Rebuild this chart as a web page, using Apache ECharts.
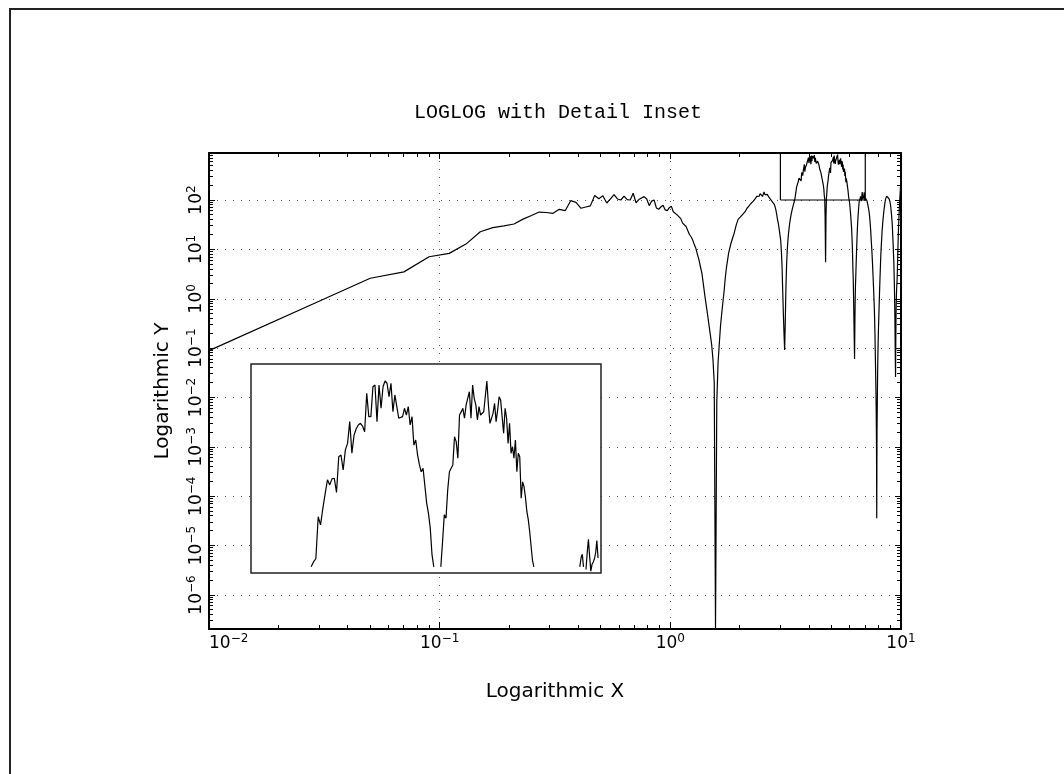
<!DOCTYPE html>
<html>
<head>
<meta charset="utf-8">
<script src="https://cdn.jsdelivr.net/npm/echarts@6.0.0/dist/echarts.min.js"></script>
<style>
  html, body { margin: 0; padding: 0; background: #fff; }
  #chart { width: 1064px; height: 774px; }
</style>
</head>
<body>
<div id="chart"></div>
<script>
// Signal sampled every 0.02 in x; each band lists y values from its first x.
const SAMPLE_STEP = 0.02;

// x = 0.01 ... 0.99
const lowBand = [
  0.089, 0.89, 2.6, 3.5, 7.1, 8.3, 12.8, 22.8, 27.5, 30,
  32.7, 41, 48.5, 57, 55.8, 53.7, 64.7, 60.7, 96.8, 89.8,
  68, 72, 76, 123, 106, 122, 87, 105, 128, 105,
  100, 120, 102, 100, 137, 88, 102, 110, 117, 105,
  77, 95, 100, 69, 65, 72, 78, 63, 61, 70
];

// x = 1.01 ... 3.45
const firstLobes = [
  75, 58, 62, 50, 52, 42, 34, 36, 29, 24,
  20, 18, 15.5, 12.5, 10.5, 8, 6.2, 4.5, 3.3, 2.0,
  1.2, 0.75, 0.48, 0.3, 0.19, 0.12, 0.06, 0.02, 2.1e-7, 0.008,
  0.05, 0.12, 0.28, 0.5, 0.85, 1.4, 2.6, 4.2, 6, 8.5,
  10.5, 13, 15.5, 17, 21, 23, 31, 36, 41, 43,
  45, 47, 50, 52, 54, 58, 62, 68, 72, 75,
  80, 84, 88, 92, 95, 100, 105, 108, 118, 112,
  128, 120, 135, 125, 140, 118, 132, 145, 128, 138,
  126, 130, 120, 116, 112, 105, 100, 96, 92, 88,
  84, 80, 74, 62, 52, 42, 36, 30, 24, 19,
  15, 9, 4.5, 1.5, 0.5, 0.2, 0.092, 0.35, 1.6, 4.5,
  9, 14, 20, 26, 33, 40, 47, 55, 62, 70,
  78, 86, 95
];

// x = 3.47 ... 6.99 (the stretch shown enlarged in the inset)
const detailBand = [
  107, 113, 117, 186, 170, 204, 240, 279, 264, 282,
  284, 243, 360, 367, 311, 388, 417, 530, 374, 457,
  490, 511, 520, 505, 474, 724, 560, 560, 778, 793,
  530, 793, 614, 778, 829, 809, 697, 809, 591, 711,
  625, 550, 555, 560, 614, 570, 625, 511, 560, 409,
  433, 367, 330, 305, 317, 323, 216, 193, 164, 122,
  107,
  40, 5.5, 45,
  107, 141, 190, 183, 250, 305, 317, 329, 449, 425,
  354, 570, 590, 614, 550, 637, 649, 737, 550, 793,
  685, 637, 540, 625, 570, 580, 591, 591, 829, 637,
  520, 511, 580, 649, 530, 600, 697, 673, 673, 466,
  614, 550, 417, 520, 374, 402, 354, 433, 305, 374,
  360, 228, 273, 259, 230, 197, 180, 158, 161, 115,
  107,
  95, 85, 72, 60, 50, 40, 32, 26, 18, 12,
  7, 3.8, 2.4, 1.0, 0.4, 0.15, 0.06, 0.3, 1.0, 2.0,
  3.0, 5, 8, 12, 18, 26, 35, 45, 55, 68,
  80, 95,
  98, 99, 107, 118, 123, 107, 95, 104, 125, 145,
  120, 102, 110, 113, 117, 125, 143, 118, 97, 96
];

// x = 7.01 ... 9.99
const highBand = [
  110, 116, 106, 104, 108, 98, 95, 88, 86, 78,
  73, 68, 63, 58, 52, 46, 40, 34, 29, 24,
  19, 15, 12.5, 10, 8, 6.2, 4.8, 3.6, 2.7, 2.0,
  1.5, 1.1, 0.8, 0.55, 0.35, 0.2, 0.1, 0.05, 0.025, 0.012,
  0.005, 0.0012, 3.6e-5, 0.002, 0.006, 0.02, 0.05, 0.1, 0.17, 0.27,
  0.4, 0.6, 0.9, 1.3, 1.9, 2.7, 3.7, 5.2, 7, 9,
  11.5, 14, 17, 21, 25, 29, 34, 39, 43, 48,
  54, 60, 66, 72, 78, 84, 92, 96, 104, 100,
  110, 114, 108, 120, 125, 118, 127, 121, 124, 116,
  120, 112, 114, 106, 108, 100, 102, 95, 90, 84,
  78, 72, 65, 58, 52, 46, 40, 36, 30, 24,
  19, 15, 12, 9, 7, 5.5, 3.6, 2.4, 1.5, 0.8,
  0.4, 0.15, 0.06, 0.026, 0.12, 0.35, 0.7, 1.1, 1.5, 1.9,
  2.2, 2.8, 4, 6, 9, 13, 18, 25, 33, 42,
  52, 62, 78, 95, 115, 135, 160, 185, 215, 250
];

const bands = [[0.01, lowBand], [1.01, firstLobes], [3.47, detailBand], [7.01, highBand]];

// Axis ranges and the enlarged window
const X_RANGE = [0.01, 10];
const Y_RANGE = [2.05e-7, 895];
const DETAIL_X = [3, 7];
const DETAIL_Y = [100, 1000];

// Decades that carry a labelled tick
const X_DECADES = [-2, -1, 0, 1];
const Y_DECADES = [-6, -5, -4, -3, -2, -1, 0, 1, 2];

const curve = [];
bands.forEach(([x0, ys]) => {
  ys.forEach((y, k) => curve.push([+(x0 + k * SAMPLE_STEP).toFixed(2), y]));
});

// Inset: only samples inside its x window; values under its floor leave gaps
const insetCurve = curve
  .filter(([x]) => x >= DETAIL_X[0] && x <= DETAIL_X[1])
  .map(([x, y]) => [x, y >= DETAIL_Y[0] ? y : '-']);

const detailBox = [
  [DETAIL_X[0], DETAIL_Y[0]], [DETAIL_X[0], DETAIL_Y[1]],
  [DETAIL_X[1], DETAIL_Y[1]], [DETAIL_X[1], DETAIL_Y[0]],
  [DETAIL_X[0], DETAIL_Y[0]]
];

function minorTicks(lo, hi) {
  const out = [];
  for (let d = Math.floor(Math.log10(lo)); d <= Math.ceil(Math.log10(hi)); d++) {
    for (let m = 2; m <= 9; m++) {
      const v = m * Math.pow(10, d);
      if (v > lo && v < hi) out.push(v);
    }
  }
  return out;
}

function powerLabel(decades) {
  return function (v) {
    const e = Math.log10(v);
    const r = Math.round(e);
    if (Math.abs(e - r) > 1e-6 || decades.indexOf(r) < 0) return '';
    return '{b|10}{s|' + (r < 0 ? '\u2212' + (-r) : r) + '}';
  };
}

const LABEL_FONT = 'DejaVu Sans';
const labelRich = {
  b: { fontSize: 17, lineHeight: 22, fontFamily: LABEL_FONT, color: '#000' },
  s: { fontSize: 12, lineHeight: 12, verticalAlign: 'top', fontFamily: LABEL_FONT, color: '#000' }
};

const INK = '#000';
const dotted = { type: [1, 7], color: '#555', width: 1 };
const MINOR_LEN = 4;

function crisp(v) { return Math.round(v - 0.5) + 0.5; }

const chart = echarts.init(document.getElementById('chart'), null, { renderer: 'canvas' });

chart.setOption({
  animation: false,
  backgroundColor: '#fff',
  textStyle: { fontFamily: LABEL_FONT },
  title: {
    text: 'LOGLOG with Detail Inset',
    left: 553,
    top: 98,
    textAlign: 'center',
    textStyle: { fontFamily: 'Liberation Mono', fontSize: 20, fontWeight: 'normal', color: INK }
  },
  graphic: [
    { type: 'line', silent: true, shape: { x1: 9, y1: 9, x2: 1064, y2: 9 }, style: { stroke: '#222', lineWidth: 2 } },
    { type: 'line', silent: true, shape: { x1: 10, y1: 8, x2: 10, y2: 774 }, style: { stroke: '#222', lineWidth: 2 } }
  ],
  grid: [
    { left: 209, top: 153, width: 692, height: 476, outerBoundsMode: 'none', containLabel: false },
    { left: 251, top: 364, width: 350, height: 209, show: true, backgroundColor: '#fff',
      borderColor: '#222', borderWidth: 1.5, z: 5, outerBoundsMode: 'none', containLabel: false }
  ],
  xAxis: [
    {
      gridIndex: 0, type: 'log', logBase: 10, min: X_RANGE[0], max: X_RANGE[1], position: 'bottom',
      axisLine: { show: true, onZero: false, lineStyle: { color: INK, width: 2 } },
      axisTick: { show: true, inside: true, length: 7, lineStyle: { color: INK, width: 1 } },
      axisLabel: { formatter: powerLabel(X_DECADES), rich: labelRich, margin: 4, alignMinLabel: 'left' },
      splitLine: { show: true, lineStyle: dotted },
      name: 'Logarithmic X', nameLocation: 'middle', nameGap: 53,
      nameTextStyle: { fontFamily: LABEL_FONT, fontSize: 20, color: INK }
    },
    {
      gridIndex: 0, type: 'log', logBase: 10, min: X_RANGE[0], max: X_RANGE[1], position: 'top',
      axisLine: { show: true, onZero: false, lineStyle: { color: INK, width: 2 } },
      axisTick: { show: true, inside: true, length: 6, lineStyle: { color: INK, width: 1 } },
      axisLabel: { show: false }, splitLine: { show: false }
    },
    { gridIndex: 1, type: 'log', logBase: 10, min: DETAIL_X[0], max: DETAIL_X[1], show: false, splitLine: { show: false } }
  ],
  yAxis: [
    {
      gridIndex: 0, type: 'log', logBase: 10, min: Y_RANGE[0], max: Y_RANGE[1], position: 'left', splitNumber: 10,
      axisLine: { show: true, onZero: false, lineStyle: { color: INK, width: 2 } },
      axisTick: { show: true, inside: true, length: 6, lineStyle: { color: INK, width: 1 } },
      axisLabel: { formatter: powerLabel(Y_DECADES), rich: labelRich, margin: 1, rotate: 90 },
      splitLine: { show: true, lineStyle: dotted },
      name: 'Logarithmic Y', nameLocation: 'middle', nameGap: 36, nameRotate: 90,
      nameTextStyle: { fontFamily: LABEL_FONT, fontSize: 20, color: INK }
    },
    {
      gridIndex: 0, type: 'log', logBase: 10, min: Y_RANGE[0], max: Y_RANGE[1], position: 'right', splitNumber: 10,
      axisLine: { show: true, onZero: false, lineStyle: { color: INK, width: 2 } },
      axisTick: { show: true, inside: true, length: 6, lineStyle: { color: INK, width: 1 } },
      axisLabel: { show: false }, splitLine: { show: false }
    },
    { gridIndex: 1, type: 'log', logBase: 10, min: DETAIL_Y[0], max: DETAIL_Y[1], show: false, splitLine: { show: false } }
  ],
  series: [
    {
      type: 'line', xAxisIndex: 0, yAxisIndex: 0, data: curve, symbol: 'none', silent: true, z: 3,
      lineStyle: { color: INK, width: 1.2 }
    },
    {
      type: 'line', xAxisIndex: 0, yAxisIndex: 0, data: detailBox, symbol: 'none', silent: true, z: 3,
      lineStyle: { color: INK, width: 1.2 }
    },
    {
      type: 'line', xAxisIndex: 2, yAxisIndex: 2, data: insetCurve, symbol: 'none', silent: true, z: 10,
      connectNulls: false, lineStyle: { color: INK, width: 1.2 }
    },
    {
      // minor decade ticks along the bottom and top edges
      type: 'custom', xAxisIndex: 0, yAxisIndex: 0, silent: true, z: 4,
      data: minorTicks(X_RANGE[0], X_RANGE[1]).map(v => [v, Y_RANGE[1]]),
      renderItem(params, api) {
        const cs = params.coordSys;
        const px = crisp(api.coord([api.value(0), Y_RANGE[1]])[0]);
        const bottom = cs.y + cs.height, top = cs.y;
        const st = { stroke: INK, lineWidth: 1 };
        return { type: 'group', children: [
          { type: 'line', shape: { x1: px, y1: bottom, x2: px, y2: bottom - MINOR_LEN }, style: st },
          { type: 'line', shape: { x1: px, y1: top, x2: px, y2: top + MINOR_LEN }, style: st }
        ] };
      }
    },
    {
      // minor decade ticks along the left and right edges
      type: 'custom', xAxisIndex: 0, yAxisIndex: 0, silent: true, z: 4,
      data: minorTicks(Y_RANGE[0], Y_RANGE[1]).map(v => [X_RANGE[0], v]),
      renderItem(params, api) {
        const cs = params.coordSys;
        const py = crisp(api.coord([X_RANGE[0], api.value(1)])[1]);
        const left = cs.x, right = cs.x + cs.width;
        const st = { stroke: INK, lineWidth: 1 };
        return { type: 'group', children: [
          { type: 'line', shape: { x1: left, y1: py, x2: left + MINOR_LEN, y2: py }, style: st },
          { type: 'line', shape: { x1: right, y1: py, x2: right - MINOR_LEN, y2: py }, style: st }
        ] };
      }
    }
  ]
});
</script>
</body>
</html>
